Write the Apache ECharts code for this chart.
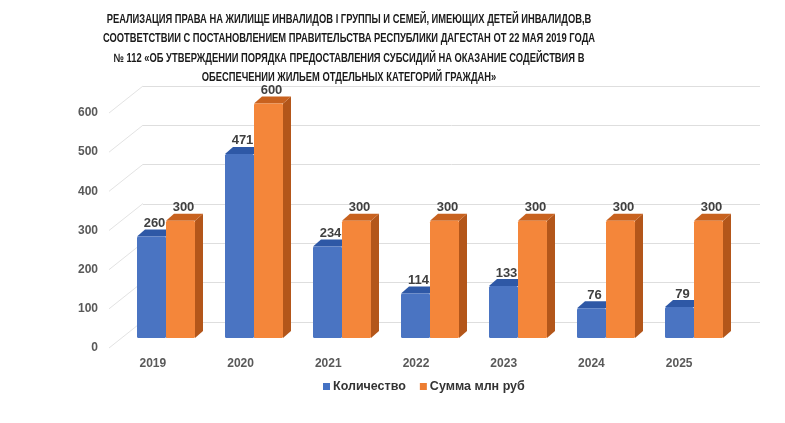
<!DOCTYPE html>
<html>
<head>
<meta charset="utf-8">
<script src="https://cdn.jsdelivr.net/npm/echarts@6/dist/echarts.min.js"></script>
<style>
  html, body { margin: 0; padding: 0; background: #fff; }
  #chart { width: 785px; height: 423px; }
</style>
</head>
<body>
<div id="chart"></div>
<script>
const years = ['2019', '2020', '2021', '2022', '2023', '2024', '2025'];
const counts = [260, 471, 234, 114, 133, 76, 79];
const sums = [300, 600, 300, 300, 300, 300, 300];
const yTicks = [0, 100, 200, 300, 400, 500, 600];

const titleText =
  'РЕАЛИЗАЦИЯ ПРАВА НА ЖИЛИЩЕ ИНВАЛИДОВ I ГРУППЫ И СЕМЕЙ, ИМЕЮЩИХ ДЕТЕЙ ИНВАЛИДОВ,В\n' +
  'СООТВЕТСТВИИ С ПОСТАНОВЛЕНИЕМ ПРАВИТЕЛЬСТВА РЕСПУБЛИКИ ДАГЕСТАН ОТ 22 МАЯ 2019 ГОДА\n' +
  '№ 112 «ОБ УТВЕРЖДЕНИИ ПОРЯДКА ПРЕДОСТАВЛЕНИЯ СУБСИДИЙ НА ОКАЗАНИЕ СОДЕЙСТВИЯ В\n' +
  'ОБЕСПЕЧЕНИИ ЖИЛЬЕМ ОТДЕЛЬНЫХ КАТЕГОРИЙ ГРАЖДАН»';

const BW = 29, DX = 8, DY = 7;

// 3d-looking bar, slot 0 = left, 1 = right
function bar3d(slot, front, top, side) {
  return function (params, api) {
    const c = api.value(0), v = api.value(1);
    const pTop = api.coord([c, v]);
    const pBase = api.coord([c, 0]);
    const x0 = pTop[0] - BW + slot * BW;
    const ty = pTop[1], by = pBase[1];
    return {
      type: 'group',
      children: [
        {
          type: 'polygon',
          shape: { points: [[x0 + BW, ty], [x0 + BW + DX, ty - DY], [x0 + BW + DX, by - DY], [x0 + BW, by]] },
          style: { fill: side }
        },
        {
          type: 'polygon',
          shape: { points: [[x0, ty], [x0 + BW, ty], [x0 + BW + DX, ty - DY], [x0 + DX, ty - DY]] },
          style: { fill: top }
        },
        {
          type: 'rect',
          shape: { x: x0, y: ty, width: BW, height: by - ty, r: 1.5 },
          style: { fill: front }
        },
        {
          type: 'text',
          x: x0 + BW / 2 + 3,
          y: ty - 13,
          style: {
            text: String(v),
            align: 'center',
            verticalAlign: 'middle',
            fill: '#404040',
            font: 'bold 13px "Liberation Sans", Arial, sans-serif'
          }
        }
      ]
    };
  };
}

function sideLines(params, api) {
  const v = api.value(0);
  const p = api.coord([0, v]);
  const x = params.coordSys.x;
  return {
    type: 'line',
    shape: { x1: x, y1: p[1], x2: x + 34, y2: p[1] - 27 },
    style: { stroke: '#e3e3e3', lineWidth: 1 }
  };
}

const chartObj = echarts.init(document.getElementById('chart'));
chartObj.setOption({
  backgroundColor: '#ffffff',
  animation: false,
  graphic: [
    {
      type: 'text',
      x: 349,
      y: 10,
      scaleX: 0.78,
      silent: true,
      style: {
        text: titleText,
        align: 'center',
        verticalAlign: 'top',
        lineHeight: 19.3,
        fill: '#1a1a1a',
        font: 'bold 12px "Liberation Sans", Arial, sans-serif'
      }
    }
  ],
  legend: {
    left: 318,
    top: 375,
    itemWidth: 7,
    itemHeight: 7,
    itemGap: 14,
    icon: 'rect',
    textStyle: {
      fontFamily: '"Liberation Sans", Arial, sans-serif',
      fontSize: 12.5,
      fontWeight: 'bold',
      color: '#333',
      padding: [0, 0, 0, -2]
    },
    data: ['Количество', 'Сумма млн руб']
  },
  grid: [
    // bars
    { left: 122, right: 47, top: 103.5, bottom: 85 },
    // back wall
    { left: 143, right: 25, top: 86, bottom: 101 },
    // front axis labels + side wall
    { left: 109, right: 62, top: 113, bottom: 75 }
  ],
  xAxis: [
    { gridIndex: 0, type: 'category', data: years, show: false },
    { gridIndex: 1, type: 'value', min: 0, max: 1, show: false },
    {
      gridIndex: 2, type: 'category', data: years,
      axisLine: { show: false }, axisTick: { show: false },
      axisLabel: {
        margin: 10,
        fontFamily: '"Liberation Sans", Arial, sans-serif',
        fontSize: 12, fontWeight: 'bold', color: '#595959'
      }
    }
  ],
  yAxis: [
    { gridIndex: 0, type: 'value', min: 0, max: 600, show: false },
    {
      gridIndex: 1, type: 'value', min: 0, max: 600, interval: 100,
      axisLine: { show: false }, axisTick: { show: false }, axisLabel: { show: false },
      splitLine: { lineStyle: { color: '#dedede', width: 1 } }
    },
    {
      gridIndex: 2, type: 'value', min: 0, max: 600, interval: 100,
      axisLine: { show: false }, axisTick: { show: false },
      splitLine: { show: false },
      axisLabel: {
        margin: 11,
        fontFamily: '"Liberation Sans", Arial, sans-serif',
        fontSize: 12, fontWeight: 'bold', color: '#595959'
      }
    }
  ],
  series: [
    {
      type: 'custom',
      xAxisIndex: 2, yAxisIndex: 2,
      silent: true,
      renderItem: sideLines,
      data: yTicks.map(v => [v]),
      encode: { y: 0 }
    },
    {
      name: 'Количество',
      type: 'custom',
      xAxisIndex: 0, yAxisIndex: 0,
      itemStyle: { color: '#4472c4' },
      renderItem: bar3d(0, '#4a74c2', '#2e58a6', '#2c4f90'),
      data: counts.map((v, i) => [i, v])
    },
    {
      name: 'Сумма млн руб',
      type: 'custom',
      xAxisIndex: 0, yAxisIndex: 0,
      itemStyle: { color: '#ed7d31' },
      renderItem: bar3d(1, '#f4863a', '#c8621f', '#b3561a'),
      data: sums.map((v, i) => [i, v])
    }
  ]
});
</script>
</body>
</html>
